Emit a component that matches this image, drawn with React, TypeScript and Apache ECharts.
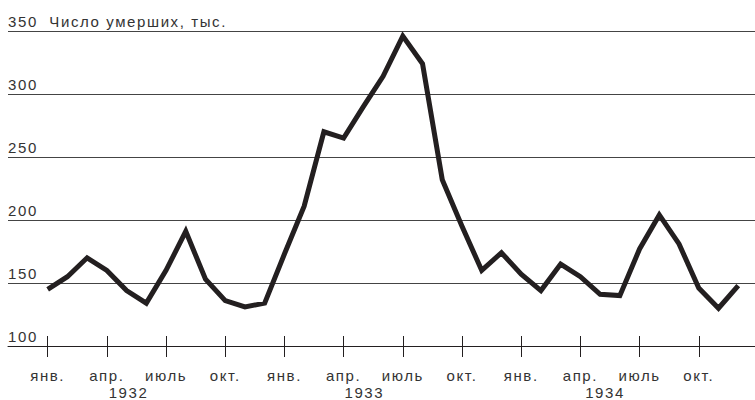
import React, { useEffect, useRef } from "react";
import * as echarts from "echarts";

const monthLabels = ["янв.", "апр.", "июль", "окт."];
const tickMonths = [0, 3, 6, 9, 12, 15, 18, 21, 24, 27, 30, 33];
const yearLabels = ["1932", "1933", "1934"];
const yearPositions = [4.1, 16.05, 28.25];
const yTitle = "Число умерших, тыс.";
const deaths = [
  145, 155, 170, 160, 144, 134, 160, 191, 153, 136, 131, 134,
  173, 211, 270, 265, 290, 314, 346, 324, 232, 195, 160, 174,
  157, 144, 165, 155, 141, 140, 177, 204, 181, 146, 130, 148,
];

const FONT = "'Liberation Sans', Arial, sans-serif";
const LINE = "#231f20";
const TXT = "#333333";
const FS = 15;

export default function App() {
  const ref = useRef<HTMLDivElement>(null);
  useEffect(() => {
    if (!ref.current) return;
    const chart = echarts.init(ref.current, undefined, { renderer: "svg" });
    const xMin = -2.01;
    const xMax = 35.85;
    chart.setOption({
      animation: false,
      grid: { left: 8, right: 0, top: 31, bottom: 53.3, containLabel: false },
      xAxis: [
        {
          type: "value",
          min: xMin,
          max: xMax,
          position: "bottom",
          axisLine: { show: true, lineStyle: { color: LINE, width: 1 } },
          axisTick: { show: true, customValues: tickMonths, length: 11, lineStyle: { color: LINE, width: 1 } },
          axisLabel: {
            customValues: tickMonths,
            formatter: (v: number) => monthLabels[Math.round(v / 3) % 4],
            margin: 21.5,
            fontSize: FS,
            fontFamily: FONT,
            color: TXT,
          },
          splitLine: { show: false },
        },
        {
          type: "value",
          min: xMin,
          max: xMax,
          position: "bottom",
          axisLine: { show: false },
          axisTick: { show: true, inside: true, customValues: tickMonths, length: 10, lineStyle: { color: LINE, width: 1 } },
          axisLabel: { show: false },
          splitLine: { show: false },
        },
        {
          type: "value",
          min: xMin,
          max: xMax,
          position: "bottom",
          axisLine: { show: false },
          axisTick: { show: false },
          axisLabel: {
            customValues: yearPositions,
            formatter: (v: number) => yearLabels[Math.floor(v / 12)],
            margin: 39,
            fontSize: FS,
            fontFamily: FONT,
            color: TXT,
          },
          splitLine: { show: false },
        },
      ],
      yAxis: {
        type: "value",
        min: 100,
        max: 350,
        interval: 50,
        axisLine: { show: false },
        axisTick: { show: false },
        splitLine: { show: true, lineStyle: { color: "#444", width: 1 } },
        axisLabel: {
          inside: true,
          margin: 0,
          align: "left",
          verticalAlign: "bottom",
          padding: [0, 0, 2, 0],
          fontSize: FS,
          fontFamily: FONT,
          color: TXT,
          formatter: (v: number) => (v === 350 ? `${v}  ${yTitle}` : `${v}`),
        },
      },
      series: [
        {
          type: "line",
          xAxisIndex: 0,
          data: deaths.map((v, i) => [i, v]),
          symbol: "none",
          lineStyle: { color: LINE, width: 5, join: "miter", cap: "butt" },
        },
      ],
    });
    return () => chart.dispose();
  }, []);
  return (
    <>
      <style>{".chart-root svg text { letter-spacing: 1.6px; }"}</style>
      <div
        ref={ref}
        className="chart-root"
        style={{ position: "fixed", left: 0, top: 0, width: 755, height: 400, background: "#fff" }}
      />
    </>
  );
}
